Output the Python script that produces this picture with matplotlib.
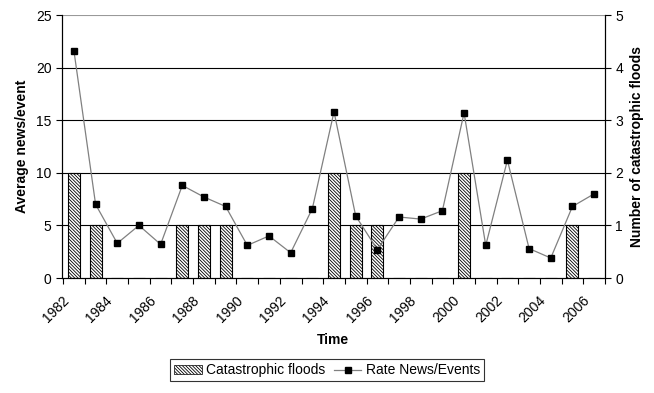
import numpy as np
import matplotlib.pyplot as plt
from matplotlib.patches import Patch
from matplotlib.lines import Line2D

plt.rcParams['font.family'] = ['Liberation Sans', 'DejaVu Sans']
plt.rcParams['hatch.linewidth'] = 0.6
plt.rcParams['hatch.color'] = '#333333'

# Données annuelles
years = list(range(1982, 2007))
floods = [2, 1, 0, 0, 0, 1, 1, 1, 0, 0, 0, 0, 2, 1, 1, 0, 0, 0, 2, 0, 0, 0, 0, 1, 0]
news_rate = [21.6, 7.0, 3.3, 5.0, 3.2, 8.8, 7.7, 6.8, 3.1, 4.0, 2.4, 6.6,
             15.8, 5.9, 2.7, 5.8, 5.6, 6.4, 15.7, 3.1, 11.2, 2.8, 1.9, 6.8, 8.0]
tick_years = years[::2]

x = np.arange(len(years))
hatch = '\\' * 10

fig = plt.figure(figsize=(6.54, 3.93), dpi=100)
ax = fig.add_axes([0.0948, 0.2926, 0.8302, 0.6692])
ax2 = ax.twinx()

# Grille horizontale sous les barres
for v in [1, 2, 3, 4]:
    ax2.axhline(v, color='black', linewidth=0.8, zorder=1)
ax2.axhline(5, color='#999999', linewidth=0.8, zorder=1)

# Barres (axe droit) derrière la courbe
ax2.bar(x, floods, width=0.55, facecolor='white', edgecolor='black',
        linewidth=0.8, hatch=hatch, zorder=2)
ax2.set_ylim(0, 5)
ax2.set_yticks(range(0, 6))
ax2.set_ylabel('Number of catastrophic floods', fontsize=10, fontweight='bold',
               labelpad=5)

ax.set_zorder(ax2.get_zorder() + 1)
ax.patch.set_visible(False)

ax.plot(x, news_rate, color='#808080', linewidth=0.9, marker='s',
        markersize=5, markerfacecolor='black', markeredgecolor='black', zorder=3)
ax.set_ylim(0, 25)
ax.set_yticks(range(0, 26, 5))
ax.set_xlim(-0.5, len(years) - 0.5)
ax.set_ylabel('Average news/event', fontsize=10, fontweight='bold', labelpad=5)

ax.set_xticks(x[::2] - 0.55)
ax.set_xticklabels([str(y) for y in tick_years], rotation=45, ha='right',
                   rotation_mode='anchor')
ax.set_xticks(np.arange(-0.5, len(years)), minor=True)
ax.tick_params(axis='x', which='major', length=0, pad=11, labelsize=10)
ax.tick_params(axis='x', which='minor', length=4, width=0.8)
ax.tick_params(axis='y', length=4, width=0.8, labelsize=10, colors='black')
ax2.tick_params(axis='y', length=4, width=0.8, labelsize=10)
fig.text(0.509, 0.135, 'Time', fontsize=10, fontweight='bold',
         ha='center', va='center')

for a in (ax, ax2):
    a.spines['top'].set_visible(False)
    for s in ('left', 'right', 'bottom'):
        a.spines[s].set_linewidth(0.8)

handles = [Patch(facecolor='white', edgecolor='black', hatch=hatch, linewidth=0.5),
           Line2D([], [], color='#808080', linewidth=0.9, marker='s', markersize=4,
                  markerfacecolor='black', markeredgecolor='black')]
leg = fig.legend(handles, ['Catastrophic floods', 'Rate News/Events'],
                 loc='center', bbox_to_anchor=(0.5, 0.058), ncol=2, fontsize=10,
                 frameon=True, fancybox=False, edgecolor='black',
                 handlelength=2.0, handleheight=0.6, handletextpad=0.3,
                 columnspacing=0.6, borderpad=0.3)
leg.get_frame().set_linewidth(0.8)

fig.savefig('out.png', dpi=100)
